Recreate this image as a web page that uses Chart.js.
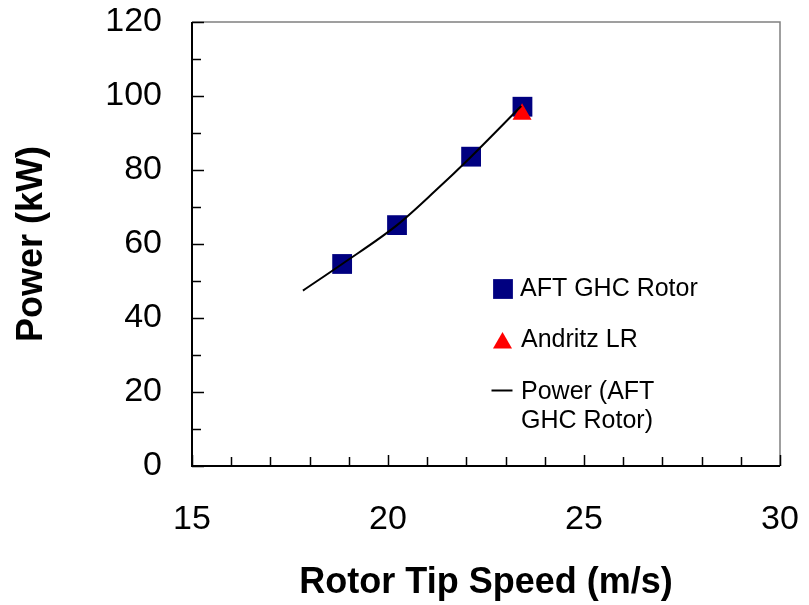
<!DOCTYPE html>
<html>
<head>
<meta charset="utf-8">
<script src="https://cdn.jsdelivr.net/npm/chart.js@4.4.0/dist/chart.umd.min.js"></script>
<style>
    html, body { margin: 0; padding: 0; background: #fff; }
    #wrap { width: 809px; height: 605px; }
</style>
</head>
<body>
<div id="wrap"><canvas id="powerChart" width="809" height="605"></canvas></div>
<script>
// Power vs rotor tip speed

// Data
const aftSpeed = [18.83, 20.23, 22.12, 23.43];
const aftPower = [54.6, 65.1, 83.6, 97.1];

const andritzSpeed = [23.42];
const andritzPower = [95.1];

// trendline
const trendSpeed = [17.83, 18.83, 20.23, 21.2, 22.12, 23.4];
const trendPower = [47.4, 54.6, 65.1, 74.3, 83.6, 97.3];

// Axes
const xMin = 15, xMax = 30, xStep = 5;
const yMin = 0, yMax = 120, yStep = 20;
const xMinorTicks = [16, 17, 18, 19, 21, 22, 23, 24, 26, 27, 28, 29];
const yMinorTicks = [10, 30, 50, 70, 90, 110];

const legendLabels = ['AFT GHC Rotor', 'Andritz LR', ['Power (AFT', 'GHC Rotor)']];

const FONT = '"Liberation Sans", Arial, Helvetica, sans-serif';

function toPoints(xs, ys) {
    return xs.map((x, i) => ({ x: x, y: ys[i] }));
}

// fixed axis sizes, no extra padding from labels
function fixScale(s, size) {
    if (s.isHorizontal()) s.height = size; else s.width = size;
    s.paddingTop = 0;
    s.paddingBottom = 0;
    s.paddingLeft = 0;
    s.paddingRight = 0;
}

// Frame and inward tick marks
const framePlugin = {
    id: 'frameTicks',
    beforeDatasetsDraw(chart) {
        const { ctx, chartArea: a, scales } = chart;
        const x = scales.x, y = scales.y;
        ctx.save();

        ctx.strokeStyle = '#808080';
        ctx.lineWidth = 1.5;
        ctx.beginPath();
        ctx.moveTo(a.left, a.top);
        ctx.lineTo(a.right, a.top);
        ctx.lineTo(a.right, a.bottom);
        ctx.stroke();

        ctx.strokeStyle = '#000';
        ctx.lineWidth = 2;
        ctx.beginPath();
        ctx.moveTo(a.left, a.top);
        ctx.lineTo(a.left, a.bottom);
        ctx.lineTo(a.right, a.bottom);
        ctx.stroke();

        ctx.lineWidth = 1.5;
        ctx.beginPath();
        y.ticks.forEach(t => {
            const py = Math.round(y.getPixelForValue(t.value)) + 0.5;
            ctx.moveTo(a.left, py);
            ctx.lineTo(a.left + 12, py);
        });
        yMinorTicks.forEach(v => {
            const py = Math.round(y.getPixelForValue(v)) + 0.5;
            ctx.moveTo(a.left, py);
            ctx.lineTo(a.left + 9, py);
        });
        x.ticks.forEach(t => {
            const px = Math.round(x.getPixelForValue(t.value)) + 0.5;
            ctx.moveTo(px, a.bottom);
            ctx.lineTo(px, a.bottom - 11);
        });
        xMinorTicks.forEach(v => {
            const px = Math.round(x.getPixelForValue(v)) + 0.5;
            ctx.moveTo(px, a.bottom);
            ctx.lineTo(px, a.bottom - 9);
        });
        ctx.stroke();
        ctx.restore();
    }
};

// Legend drawn inside the plot area
const legendPlugin = {
    id: 'insideLegend',
    afterDraw(chart) {
        const ctx = chart.ctx;
        ctx.save();
        ctx.font = '25px ' + FONT;
        ctx.textBaseline = 'alphabetic';
        ctx.textAlign = 'left';

        // square marker
        ctx.fillStyle = '#000080';
        Chart.helpers.drawPoint(ctx, { pointStyle: 'rect', radius: 14, rotation: 0, borderWidth: 0 }, 503, 289);
        // triangle marker
        ctx.fillStyle = '#ff0000';
        Chart.helpers.drawPoint(ctx, { pointStyle: 'triangle', radius: 11, rotation: 0, borderWidth: 0 }, 502.5, 343);
        // line marker
        ctx.strokeStyle = '#000';
        ctx.lineWidth = 2;
        ctx.beginPath();
        ctx.moveTo(491.5, 390.5);
        ctx.lineTo(512.5, 390.5);
        ctx.stroke();

        ctx.fillStyle = '#000';
        ctx.fillText(legendLabels[0], 520, 296);
        ctx.fillText(legendLabels[1], 521, 347);
        ctx.fillText(legendLabels[2][0], 521, 399);
        ctx.fillText(legendLabels[2][1], 521, 428);
        ctx.restore();
    }
};

const chart = new Chart(document.getElementById('powerChart'), {
    type: 'scatter',
    data: {
        datasets: [{
            label: 'Power (AFT GHC Rotor)',
            data: toPoints(trendSpeed, trendPower),
            showLine: true,
            borderColor: '#000',
            borderWidth: 2,
            pointRadius: 0,
            pointHoverRadius: 0,
            cubicInterpolationMode: 'monotone',
            order: 1
        }, {
            label: 'Andritz LR',
            data: toPoints(andritzSpeed, andritzPower),
            pointStyle: 'triangle',
            pointRadius: 11,
            pointHoverRadius: 11,
            backgroundColor: '#ff0000',
            borderWidth: 0,
            order: 2
        }, {
            label: 'AFT GHC Rotor',
            data: toPoints(aftSpeed, aftPower),
            pointStyle: 'rect',
            pointRadius: 14,
            pointHoverRadius: 14,
            backgroundColor: '#000080',
            borderWidth: 0,
            order: 3
        }]
    },
    options: {
        responsive: false,
        animation: false,
        devicePixelRatio: 1,
        layout: { padding: { left: 0, right: 29, top: 22, bottom: 0 } },
        plugins: {
            legend: { display: false },
            tooltip: { enabled: false }
        },
        scales: {
            x: {
                type: 'linear',
                min: xMin,
                max: xMax,
                grid: { display: false, drawTicks: false },
                border: { display: false },
                ticks: {
                    stepSize: xStep,
                    autoSkip: false,
                    maxRotation: 0,
                    padding: 33,
                    color: '#000',
                    font: { size: 34, family: FONT }
                },
                title: {
                    display: true,
                    text: 'Rotor Tip Speed (m/s)',
                    color: '#000',
                    font: { size: 36, weight: 'bold', family: FONT },
                    padding: { top: 0, bottom: 0 }
                },
                afterFit: s => fixScale(s, 139)
            },
            y: {
                type: 'linear',
                min: yMin,
                max: yMax,
                grid: { display: false, drawTicks: false },
                border: { display: false },
                ticks: {
                    stepSize: yStep,
                    autoSkip: false,
                    padding: 30,
                    color: '#000',
                    font: { size: 34, family: FONT }
                },
                title: {
                    display: true,
                    text: 'Power (kW)',
                    color: '#000',
                    font: { size: 36, weight: 'bold', family: FONT },
                    padding: { top: 10, bottom: 0 }
                },
                afterFit: s => fixScale(s, 192)
            }
        }
    },
    plugins: [framePlugin, legendPlugin]
});
</script>
</body>
</html>
